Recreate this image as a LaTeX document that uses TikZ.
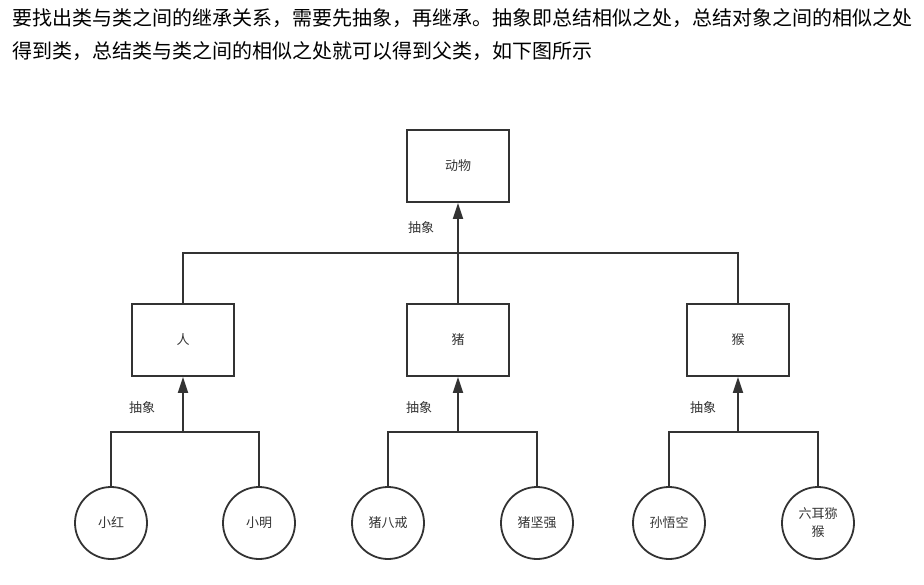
\documentclass[tikz,border=0pt]{standalone}
\usepackage{fontspec}
\setmainfont{Noto Sans CJK SC}
\usetikzlibrary{arrows.meta}
\definecolor{ln}{HTML}{333333}
\definecolor{tx}{HTML}{333333}
\tikzset{
  box/.style={draw=ln, line width=1.8pt, minimum width=102pt, minimum height=72pt, inner sep=0pt, font=\fontsize{13pt}{18pt}\selectfont, text=tx},
  leaf/.style={draw=ln, line width=1.8pt, circle, minimum size=72pt, inner sep=0pt, align=center, font=\fontsize{13pt}{18pt}\selectfont, text=tx},
  conn/.style={draw=ln, line width=1.8pt},
  inh/.style={conn, -{Triangle[length=16pt,width=10pt]}},
  lbl/.style={font=\fontsize{13pt}{15pt}\selectfont, text=tx, inner sep=0pt},
  para/.style={font=\fontsize{20pt}{24pt}\selectfont, anchor=west, inner sep=0pt, text=black}
}
\begin{document}
\begin{tikzpicture}[x=1pt,y=-1pt]
\useasboundingbox (0,0) rectangle (924,584);
\node[para] (p1) at (12,18) {要找出类与类之间的继承关系，需要先抽象，再继承。抽象即总结相似之处，总结对象之间的相似之处};
\node[para] (p2) at (12,51) {得到类，总结类与类之间的相似之处就可以得到父类，如下图所示};

\node[box] (dw) at (458,166) {动物};
\node[box] (ren) at (183,340) {人};
\node[box] (zhu) at (458,340) {猪};
\node[box] (hou) at (738,340) {猴};

\node[leaf] (xh) at (111,523) {小红};
\node[leaf] (xm) at (259,523) {小明};
\node[leaf] (bj) at (388,523) {猪八戒};
\node[leaf] (jq) at (537,523) {猪坚强};
\node[leaf] (wk) at (669,523) {孙悟空};
\node[leaf] (me) at (818,523) {六耳猕\\猴};

\coordinate (j0) at (458,253);
\coordinate (j1) at (183,432);
\coordinate (j2) at (458,432);
\coordinate (j3) at (738,432);

\draw[conn] (ren.north) |- (j0) -| (hou.north);
\draw[conn] (zhu.north) -- (j0);
\draw[inh] (j0) -- (dw.south);

\draw[conn] (xh.north) |- (j1) -| (xm.north);
\draw[inh] (j1) -- (ren.south);
\draw[conn] (bj.north) |- (j2) -| (jq.north);
\draw[inh] (j2) -- (zhu.south);
\draw[conn] (wk.north) |- (j3) -| (me.north);
\draw[inh] (j3) -- (hou.south);

\node[lbl] (l0) at (421,228) {抽象};
\node[lbl] (l1) at (142,408) {抽象};
\node[lbl] (l2) at (419,408) {抽象};
\node[lbl] (l3) at (703,408) {抽象};
\end{tikzpicture}
\end{document}
